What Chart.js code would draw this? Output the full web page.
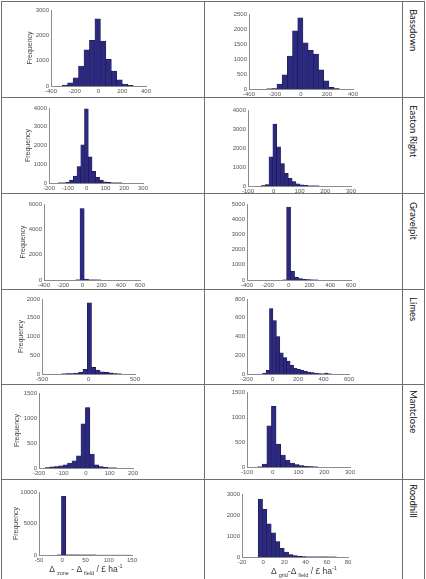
<!DOCTYPE html>
<html>
<head>
<meta charset="utf-8">
<script src="https://cdn.jsdelivr.net/npm/chart.js@4.4.1/dist/chart.umd.min.js"></script>
<style>
  body { margin: 0; background: #fff; }
  #sheet { position: relative; width: 426px; height: 579px; overflow: hidden; font-family: "Liberation Sans", Arial, sans-serif; }
  #sheet canvas { position: absolute; }
  .rule { position: absolute; background: #6f6f6f; }
  .site { position: absolute; writing-mode: vertical-rl; font-family: Lato, sans-serif; font-size: 9.5px; line-height: 12px; color: #111; }
  .xtitle { position: absolute; font-size: 8.5px; color: #3a3a3a; white-space: nowrap; transform: translateX(-50%); }
  .xtitle sub, .xtitle sup { font-size: 5.5px; }
</style>
</head>
<body>
<div id="sheet"></div>
<script>
// histogram bin centres (£/ha) and counts
const bassdownZoneBins = [-283, -237, -191, -145, -99, -53, -7, 39, 85, 131, 177, 223, 269];
const bassdownZoneCounts = [40, 130, 320, 790, 1430, 1800, 2650, 1770, 1050, 590, 240, 80, 25];
const bassdownGridBins = [-245, -205, -165, -125, -85, -45, -5, 35, 75, 115, 155, 195, 235, 275];
const bassdownGridCounts = [5, 15, 165, 475, 1100, 1940, 2370, 1540, 1290, 1160, 640, 275, 55, 10];

const eastonZoneBins = [-141, -121, -101, -81, -61, -41, -21, -1, 19, 39, 59, 79, 99, 119, 139, 159, 179];
const eastonZoneCounts = [5, 10, 40, 150, 370, 870, 2030, 3950, 1400, 620, 300, 150, 60, 30, 15, 8, 5];
const eastonGridBins = [-41, -26, -11, 4, 19, 34, 49, 64, 79, 94, 109, 124, 139, 154, 169];
const eastonGridCounts = [20, 70, 1530, 3260, 2060, 1180, 670, 400, 230, 120, 60, 30, 15, 8, 5];

const gravelZoneBins = [-47, -3, 41, 85, 129, 173];
const gravelZoneCounts = [10, 5630, 80, 20, 8, 4];
const gravelGridBins = [-38, 0, 38, 76, 114, 152, 190, 228, 266];
const gravelGridCounts = [5, 4800, 575, 180, 90, 40, 20, 10, 5];

const limesZoneBins = [-267, -221, -175, -129, -83, -37, 9, 55, 101, 147, 193, 239, 285, 331];
const limesZoneCounts = [5, 10, 10, 25, 45, 125, 1900, 175, 105, 60, 45, 30, 10, 4];
const limesGridBins = [-64, -37, -10, 17, 44, 71, 98, 125, 152, 179, 206, 233, 260, 287, 314, 341, 368, 395, 422, 449];
const limesGridCounts = [10, 39, 697, 570, 398, 225, 176, 137, 95, 63, 49, 39, 28, 21, 14, 10, 5, 3, 10, 2];

const mantZoneBins = [-164, -145, -126, -107, -88, -69, -50, -31, -12, 7, 26, 45, 64, 83, 102, 121];
const mantZoneCounts = [10, 25, 30, 45, 65, 100, 145, 245, 885, 1210, 280, 65, 30, 15, 5, 3];
const mantGridBins = [-50, -32, -14, 4, 22, 40, 58, 76, 94, 112, 130, 148, 166];
const mantGridCounts = [5, 60, 823, 1215, 458, 240, 140, 80, 46, 27, 13, 6, 3];

const roodZoneBins = [-6.3, 3, 12.3, 21.6, 30.9, 40.2, 49.5, 58.8, 68.1, 77.4, 86.7, 96, 105.3, 114.6, 123.9, 133.2, 142.5];
const roodZoneCounts = [10, 9310, 40, 20, 15, 12, 10, 8, 8, 6, 5, 5, 4, 4, 3, 3, 2];
const roodGridBins = [-2.7, 1.4, 5.5, 9.6, 13.7, 17.8, 21.9, 26, 30.1, 34.2, 38.3, 42.4, 46.5, 50.6, 54.7, 58.8, 62.9, 67];
const roodGridCounts = [2760, 2265, 1580, 1150, 735, 415, 240, 110, 64, 30, 20, 14, 10, 8, 6, 5, 4, 3];

const siteNames = ['Bassdown', 'Easton Right', 'Gravelpit', 'Limes', 'Mantclose', 'Roodhill'];

// axis ranges [min, max, step]
const xAxisTicks = [
  [-400, 400, 200], [-400, 400, 200],
  [-200, 300, 100], [-100, 300, 100],
  [-400, 600, 200], [-400, 600, 200],
  [-500, 500, 500], [-200, 600, 200],
  [-200, 200, 100], [-100, 300, 100],
  [-50, 150, 50], [-20, 80, 20]
];
const yAxisTicks = [
  [3000, 1000], [2500, 500],
  [4000, 1000], [4000, 1000],
  [6000, 2000], [5000, 1000],
  [2000, 500], [800, 200],
  [1500, 500], [1500, 500],
  [10000, 5000], [3000, 1000]
];

const binCentres = [
  bassdownZoneBins, bassdownGridBins, eastonZoneBins, eastonGridBins, gravelZoneBins, gravelGridBins,
  limesZoneBins, limesGridBins, mantZoneBins, mantGridBins, roodZoneBins, roodGridBins
];
const binCounts = [
  bassdownZoneCounts, bassdownGridCounts, eastonZoneCounts, eastonGridCounts, gravelZoneCounts, gravelGridCounts,
  limesZoneCounts, limesGridCounts, mantZoneCounts, mantGridCounts, roodZoneCounts, roodGridCounts
];

// layout: plot box [left, top, width, height] and x of the "Frequency" label
const plotBoxes = [
  [51, 10, 95, 76], [249, 14, 104, 75],
  [49, 108, 94, 75], [248, 110, 103, 76],
  [44, 204, 96, 76], [247, 204, 104, 76],
  [42, 299, 93, 75], [247, 299, 102, 75],
  [39, 393, 94, 75], [247, 392, 103, 75],
  [39, 492, 93, 63], [242, 494, 106, 63]
];
const freqLabelX = [30, 28, 23, 21, 17, 16];

const sheet = document.getElementById('sheet');
const YW = 36, TP = 6, RP = 14, XH = 14;

function addRule(x, y, w, h) {
  const d = document.createElement('div');
  d.className = 'rule';
  d.style.left = x + 'px'; d.style.top = y + 'px';
  d.style.width = w + 'px'; d.style.height = h + 'px';
  sheet.appendChild(d);
}

// table grid
[1, 97, 193, 289, 384, 479].forEach(y => addRule(1, y, 424, 1));
[1, 204, 402, 424].forEach(x => addRule(x, 1, 1, 578));

siteNames.forEach((name, r) => {
  const d = document.createElement('div');
  d.className = 'site';
  d.textContent = name;
  d.style.left = '407px';
  d.style.top = [9, 105, 202, 297, 390, 484][r] + 'px';
  sheet.appendChild(d);
});

function makeHist(i) {
  const [pl, pt, pw, ph] = plotBoxes[i];
  const [xmin, xmax, xstep] = xAxisTicks[i];
  const [ymax, ystep] = yAxisTicks[i];
  const leftCol = i % 2 === 0;

  const cv = document.createElement('canvas');
  cv.width = YW + pw + RP;
  cv.height = TP + ph + XH;
  cv.style.left = (pl - YW) + 'px';
  cv.style.top = (pt - TP) + 'px';
  sheet.appendChild(cv);

  const titlePad = leftCol ? freqLabelX[i / 2] - (pl - YW) - 4.2 : 0;

  new Chart(cv, {
    type: 'bar',
    data: {
      datasets: [{
        data: binCentres[i].map((c, k) => ({ x: c, y: binCounts[i][k] })),
        backgroundColor: '#2c2a80',
        borderColor: '#15133d',
        borderWidth: 0.5,
        barPercentage: 1,
        categoryPercentage: 1
      }]
    },
    options: {
      responsive: false,
      animation: false,
      layout: { padding: { left: 0, top: TP, right: RP, bottom: 0 } },
      plugins: { legend: { display: false }, tooltip: { enabled: false } },
      scales: {
        x: {
          type: 'linear',
          min: xmin, max: xmax,
          offset: false,
          grid: { display: false, drawTicks: false, offset: false },
          border: { color: '#8c8c8c' },
          ticks: { stepSize: xstep, padding: 2, autoSkip: false, maxRotation: 0, color: '#555', font: { size: 6 }, callback: v => String(v) },
          afterFit: s => { s.height = XH; s.paddingLeft = 0; s.paddingRight = 0; }
        },
        y: {
          min: 0, max: ymax,
          grid: { display: false, drawTicks: false },
          border: { color: '#8c8c8c' },
          ticks: { stepSize: ystep, padding: 2, color: '#555', font: { size: 6 }, callback: v => String(v) },
          title: { display: leftCol, text: 'Frequency', color: '#444', font: { size: 7 }, padding: { top: titlePad, bottom: 0 } },
          afterFit: s => { s.width = YW; s.paddingTop = 0; s.paddingBottom = 0; }
        }
      }
    }
  });
}

for (let i = 0; i < 12; i++) makeHist(i);

// x-axis titles for the bottom row
const zoneTitle = document.createElement('div');
zoneTitle.className = 'xtitle';
zoneTitle.innerHTML = 'Δ <sub>zone</sub> - Δ <sub>field</sub> / £ ha<sup>-1</sup>';
zoneTitle.style.left = '86px';
zoneTitle.style.top = '563px';
sheet.appendChild(zoneTitle);

const gridTitle = document.createElement('div');
gridTitle.className = 'xtitle';
gridTitle.innerHTML = 'Δ <sub>grid</sub>-Δ <sub>field</sub> / £ ha<sup>-1</sup>';
gridTitle.style.left = '304px';
gridTitle.style.top = '565px';
sheet.appendChild(gridTitle);
</script>
</body>
</html>
